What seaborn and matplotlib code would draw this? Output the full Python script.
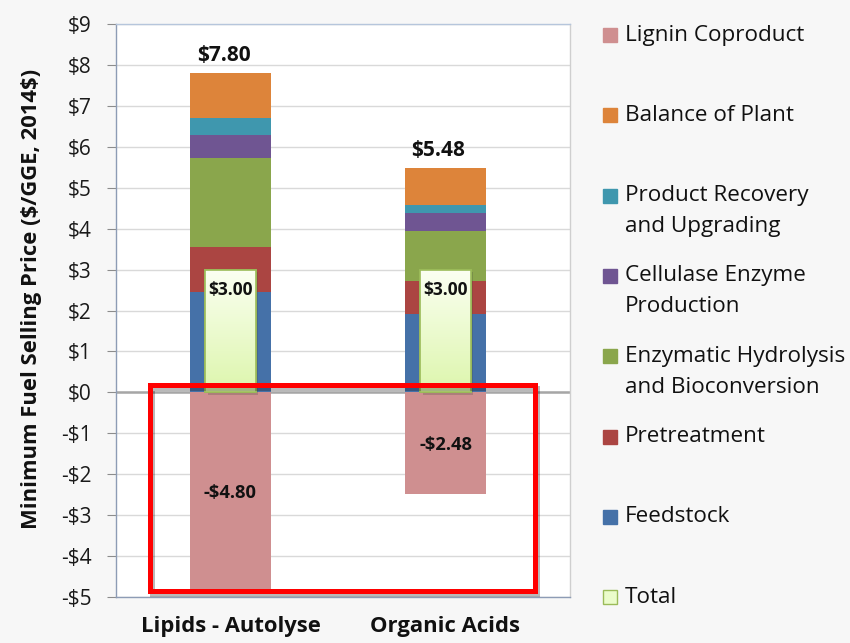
import numpy as np
import matplotlib
matplotlib.use("Agg")
import matplotlib.pyplot as plt
import matplotlib.patheffects as pe
from matplotlib.patches import Rectangle
import seaborn as sns

# Cost contributions to the minimum fuel selling price ($/GGE, 2014$)
scenarios = ["Lipids - Autolyse", "Organic Acids"]
feedstock = [2.45, 1.92]
pretreatment = [1.09, 0.79]
hydrolysis = [2.19, 1.24]
cellulase = [0.57, 0.44]
recovery = [0.41, 0.19]
balance_of_plant = [1.09, 0.90]
lignin_coproduct = [-4.80, -2.48]
total = [3.00, 3.00]
gross_cost = [7.80, 5.48]
y_ticks = list(range(-5, 10))

stack_names = ["Feedstock", "Pretreatment", "Enzymatic Hydrolysis\nand Bioconversion",
               "Cellulase Enzyme\nProduction", "Product Recovery\nand Upgrading",
               "Balance of Plant"]
stack_values = [feedstock, pretreatment, hydrolysis, cellulase, recovery, balance_of_plant]

colors = {
    "Lignin Coproduct": "#cf8f90",
    "Balance of Plant": "#dd843a",
    "Product Recovery\nand Upgrading": "#3f97ae",
    "Cellulase Enzyme\nProduction": "#6f5592",
    "Enzymatic Hydrolysis\nand Bioconversion": "#8aa64c",
    "Pretreatment": "#ab4542",
    "Feedstock": "#4571a8",
    "Total": "#ebfccb",
}
legend_order = ["Lignin Coproduct", "Balance of Plant", "Product Recovery\nand Upgrading",
                "Cellulase Enzyme\nProduction", "Enzymatic Hydrolysis\nand Bioconversion",
                "Pretreatment", "Feedstock", "Total"]

sns.set_theme(style="white")
plt.rcParams["font.family"] = ["Open Sans", "DejaVu Sans"]

W, H = 850, 643
fig = plt.figure(figsize=(W / 100, H / 100), dpi=100, facecolor="#f7f7f7")
ax = fig.add_axes([116 / W, 1 - 597 / H, (570 - 116) / W, (597 - 24) / H])
ax.set_facecolor("white")

BAR_W = 0.377
TOT_W = 0.233

# stacked cost bars: draw cumulative tops from the highest layer down
tops = np.cumsum(np.array(stack_values), axis=0)
for name, top in reversed(list(zip(stack_names, tops))):
    sns.barplot(x=scenarios, y=top, color=colors[name], width=BAR_W, saturation=1,
                errorbar=None, linewidth=0, ax=ax, zorder=2)

# lignin credit below zero
sns.barplot(x=scenarios, y=lignin_coproduct, color=colors["Lignin Coproduct"], width=BAR_W,
            saturation=1, errorbar=None, linewidth=0, ax=ax, zorder=2)

# net total bars with a soft vertical gradient
n_before = len(ax.patches)
sns.barplot(x=scenarios, y=total, color=colors["Total"], width=TOT_W, saturation=1,
            errorbar=None, linewidth=1.2, edgecolor="#9bbb59", ax=ax, zorder=3)
grad = np.linspace(0, 1, 100).reshape(-1, 1)
cmap = matplotlib.colors.LinearSegmentedColormap.from_list("tot", ["#fbfff2", "#ddf6ad"])
for p in ax.patches[n_before:]:
    p.set_path_effects([pe.SimplePatchShadow(offset=(2, -2), alpha=0.25), pe.Normal()])
    x0, y0 = p.get_x(), p.get_y()
    im = ax.imshow(grad, extent=(x0, x0 + p.get_width(), y0, y0 + p.get_height()),
                   origin="upper", aspect="auto", cmap=cmap, zorder=3.05)
    im.set_clip_path(p)
    edge = Rectangle((x0, y0), p.get_width(), p.get_height(), facecolor="none",
                     edgecolor="#9bbb59", linewidth=1.2, zorder=3.1)
    ax.add_patch(edge)

ax.set_xlim(-(230.5 - 116) / 215, 1 + (570 - 445.5) / 215)
ax.set_ylim(-5, 9)

# axes styling
ax.set_yticks(y_ticks)
ax.set_yticklabels([("-\\$%d" % abs(v)) if v < 0 else ("\\$%d" % v) for v in y_ticks])
ax.yaxis.grid(True, color="#d9d9d9", linewidth=1)
ax.set_axisbelow(True)
ax.axhline(0, color="#a6a6a6", linewidth=1.8, zorder=1.5)
ax.tick_params(axis="y", left=True, length=6.5, width=0.8, color="#8c8c8c", pad=11,
               labelsize=15, labelcolor="#1a1a1a")
ax.tick_params(axis="x", bottom=False, length=0, pad=14, labelsize=15.8)
for lbl in ax.get_xticklabels():
    lbl.set_fontweight("bold")
    lbl.set_color("#111111")
ax.spines["left"].set_color("#8d9cb5")
ax.spines["bottom"].set_color("#8d9cb5")
ax.spines["top"].set_color("#b6c6dc")
ax.spines["right"].set_color("#cfcfcf")
for s in ax.spines.values():
    s.set_linewidth(1.0)

ax.set_ylabel("Minimum Fuel Selling Price (\\$/GGE, 2014\\$)", fontsize=15.8,
              fontweight="bold", color="#111111")
ax.yaxis.set_label_coords(-0.163, 0.52)

# value labels
for i, v in enumerate(gross_cost):
    ax.annotate("\\$%.2f" % v, (i, v), xytext=(-5, 5), textcoords="offset points",
                ha="center", va="bottom", fontsize=15, fontweight="bold", color="#111111",
                zorder=6)
for i, v in enumerate(total):
    ax.annotate("\\$%.2f" % v, (i, v), xytext=(0, -14.5), textcoords="offset points",
                ha="center", va="center", fontsize=12.5, fontweight="bold", color="#111111",
                zorder=6)
for i, v in enumerate(lignin_coproduct):
    ax.text(i, v / 2 - 0.05, "-\\$%.2f" % abs(v), ha="center", va="center",
            fontsize=13.2, fontweight="bold", color="#111111", zorder=6)

# highlight box around the coproduct credits
box = Rectangle((150 / W, 1 - 591 / H), (535 - 150) / W, (591 - 385) / H,
                transform=fig.transFigure, facecolor="none", edgecolor="#ff0000",
                linewidth=3.6, zorder=10)
box.set_path_effects([pe.SimpleLineShadow(offset=(1.5, -2), shadow_color="k", alpha=0.3),
                      pe.Normal()])
fig.patches.append(box)

# legend
for i, name in enumerate(legend_order):
    yc = 35 + i * 80.3
    edge = "#9bbb59" if name == "Total" else colors[name]
    sq = Rectangle((603 / W, 1 - (yc + 7) / H), 14 / W, 14 / H, transform=fig.transFigure,
                   facecolor=colors[name], edgecolor=edge, linewidth=1)
    fig.patches.append(sq)
    for j, line in enumerate(name.split("\n")):
        fig.text(625 / W, 1 - (yc + j * 31) / H, line, ha="left", va="center",
                 fontsize=16.2, color="#111111")

fig.savefig("out.png", dpi=100, facecolor=fig.get_facecolor())
